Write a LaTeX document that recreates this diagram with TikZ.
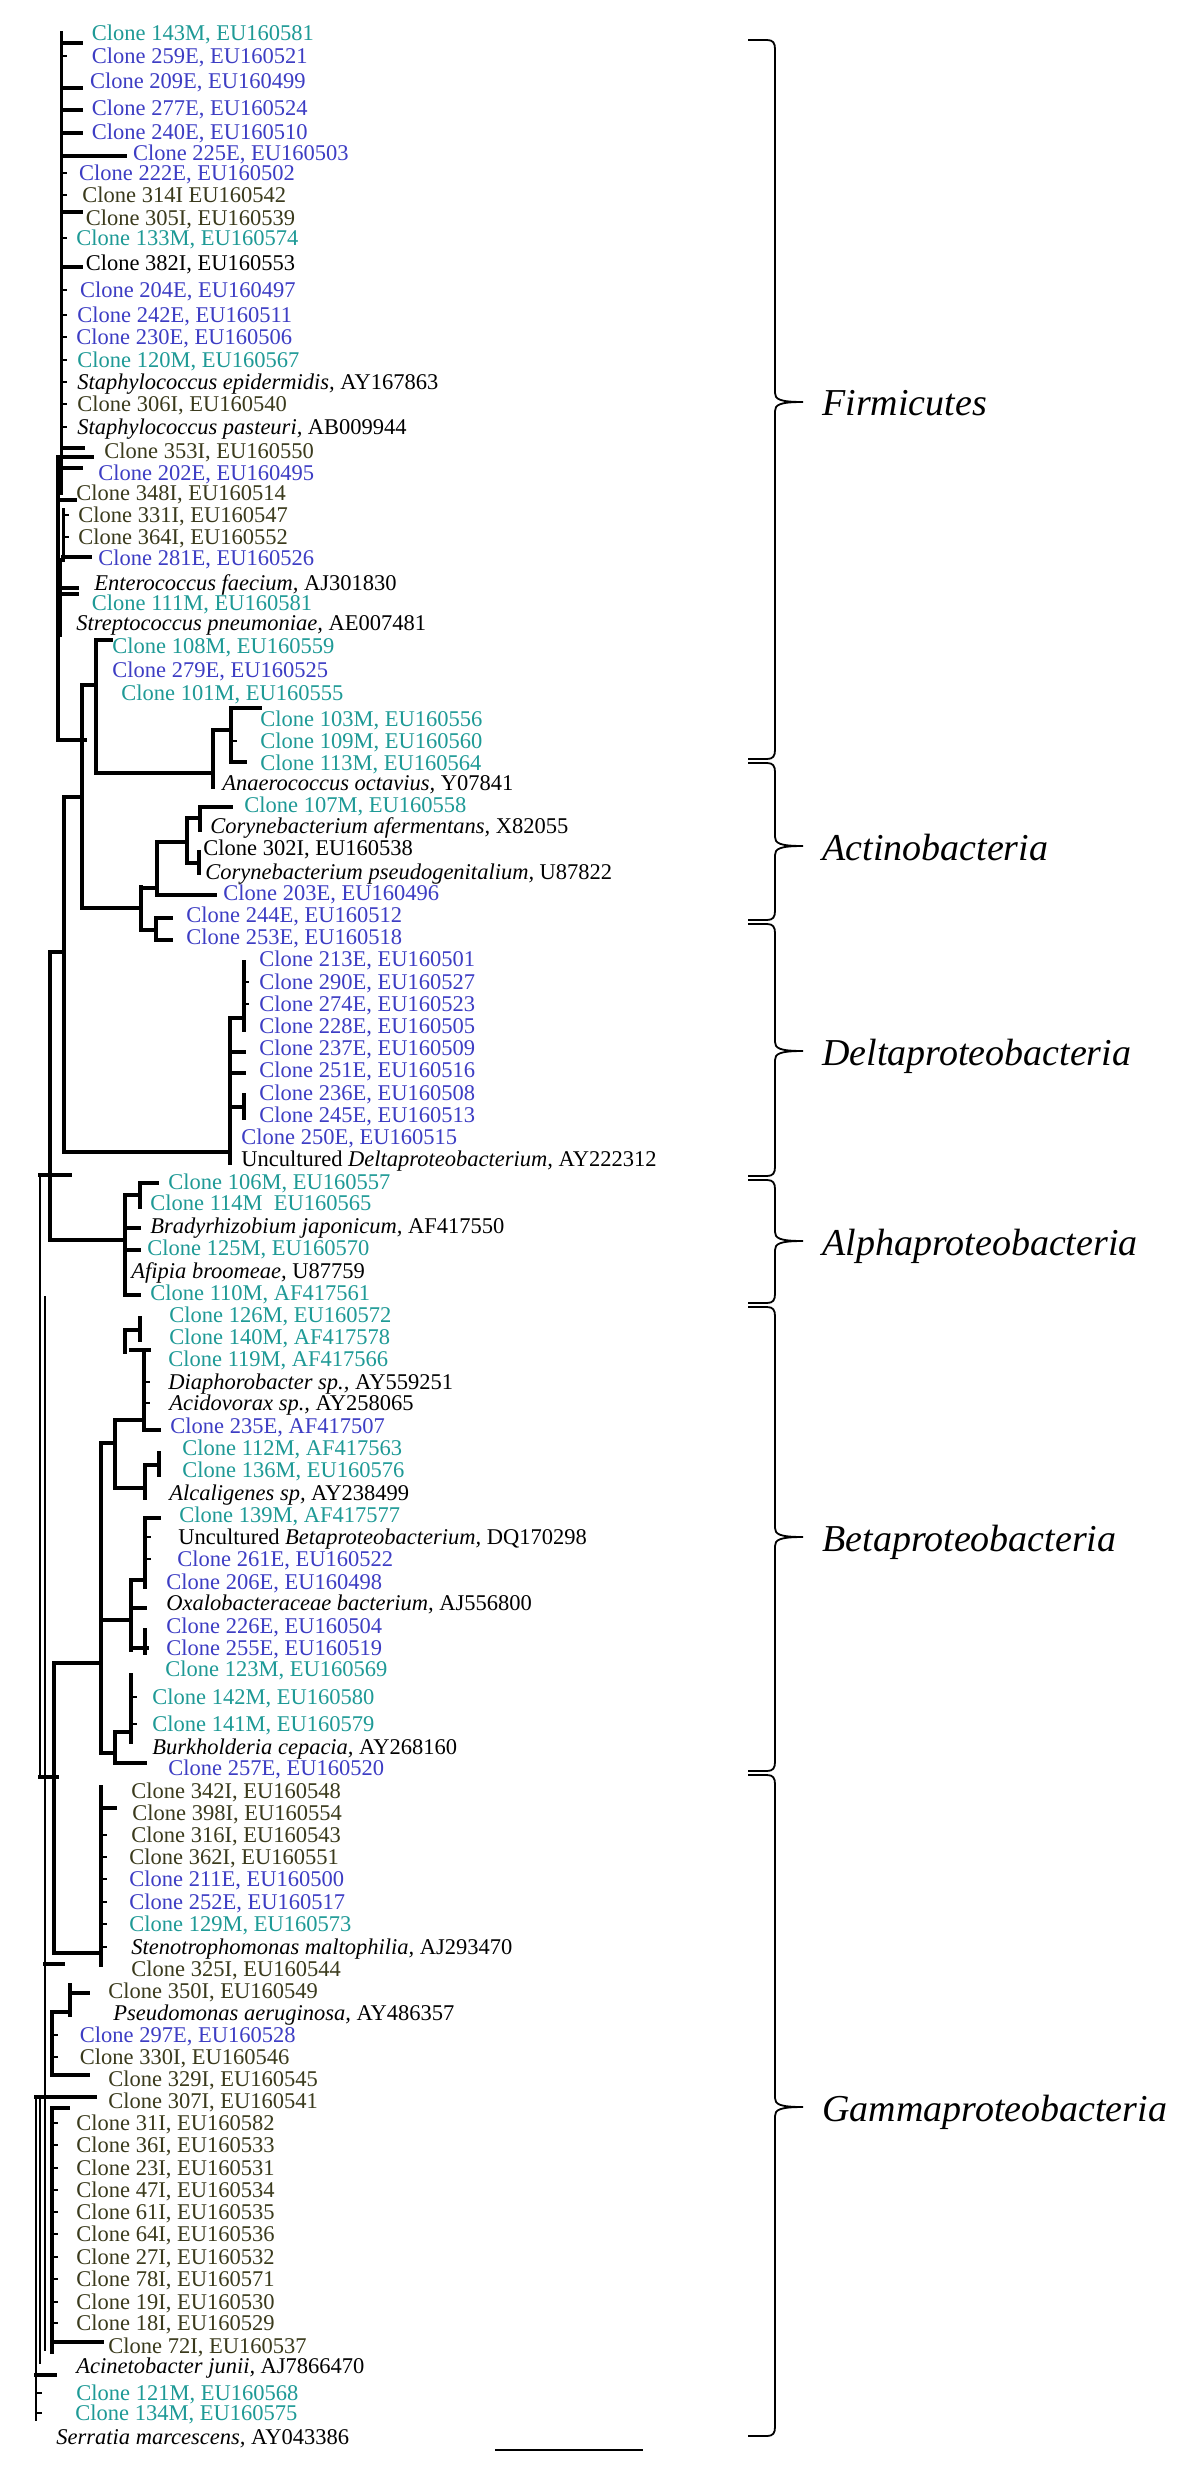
\documentclass[tikz,border=0pt]{standalone}
\usepackage{fontspec}
\setmainfont{Liberation Serif}
\usepackage{tikz}

\begin{document}
\begin{tikzpicture}[x=0.5pt, y=-0.5pt, line join=miter,
    branch/.style={line width=1.9pt, line cap=rect},
    root/.style={line width=1pt, line cap=rect},
    serr/.style={line width=1.2pt},
    bracepen/.style={line width=0.9pt},
    leaf/.style={anchor=base west, inner sep=0pt, font=\fontsize{11.25}{12}\selectfont},
    taxon/.style={anchor=base west, inner sep=0pt, font=\fontsize{19}{20}\selectfont\itshape}]
    \definecolor{cloneM}{HTML}{1E9A96}
    \definecolor{cloneE}{HTML}{3D3DC4}
    \definecolor{cloneI}{HTML}{3A3A1C}
    \definecolor{refsp}{HTML}{000000}

    % --- the page, in pixels of the reference (y runs down)
    \useasboundingbox[fill=white] (0,0) rectangle (1200,2487);

    % --- leaves: name / x / y of the text middle / colour / text
    \foreach \nm/\xx/\yy/\col/\lab in {
      c143M/91.5/33/cloneM/{Clone 143M, EU160581},
      c259E/91.5/56/cloneE/{Clone 259E, EU160521},
      c209E/89.6/81/cloneE/{Clone 209E, EU160499},
      c277E/91.5/108/cloneE/{Clone 277E, EU160524},
      c240E/91.5/132/cloneE/{Clone 240E, EU160510},
      c225E/132.7/153/cloneE/{Clone 225E, EU160503},
      c222E/78.8/173/cloneE/{Clone 222E, EU160502},
      c314I/82/195/cloneI/{Clone 314I EU160542},
      c305I/85.4/218/cloneI/{Clone 305I, EU160539},
      c133M/76/238/cloneM/{Clone 133M, EU160574},
      c382I/85.4/263/refsp/{Clone 382I, EU160553},
      c204E/79.6/290/cloneE/{Clone 204E, EU160497},
      c242E/77/315/cloneE/{Clone 242E, EU160511},
      c230E/76/337/cloneE/{Clone 230E, EU160506},
      c120M/77/360/cloneM/{Clone 120M, EU160567},
      sepi/77/382/refsp/{\textit{Staphylococcus epidermidis,} AY167863},
      c306I/77/404/cloneI/{Clone 306I, EU160540},
      spas/77/427/refsp/{\textit{Staphylococcus pasteuri,} AB009944},
      c353I/104/451/cloneI/{Clone 353I, EU160550},
      c202E/98/473/cloneE/{Clone 202E, EU160495},
      c348I/76/493/cloneI/{Clone 348I, EU160514},
      c331I/78/515/cloneI/{Clone 331I, EU160547},
      c364I/78/537/cloneI/{Clone 364I, EU160552},
      c281E/98/558/cloneE/{Clone 281E, EU160526},
      efae/94/583/refsp/{\textit{Enterococcus faecium,} AJ301830},
      c111M/91.5/603/cloneM/{Clone 111M, EU160581},
      spne/76/623/refsp/{\textit{Streptococcus pneumoniae,} AE007481},
      c108M/112/646/cloneM/{Clone 108M, EU160559},
      c279E/112/670/cloneE/{Clone 279E, EU160525},
      c101M/121/693/cloneM/{Clone 101M, EU160555},
      c103M/260/719/cloneM/{Clone 103M, EU160556},
      c109M/260/741/cloneM/{Clone 109M, EU160560},
      c113M/260/763/cloneM/{Clone 113M, EU160564},
      aoct/222/783/refsp/{\textit{Anaerococcus octavius,} Y07841}} {
      \node[leaf, text=\col] (\nm) at (\xx,{\yy+7.4}) {\lab};
    }
    \foreach \nm/\xx/\yy/\col/\lab in {
      c107M/244/805/cloneM/{Clone 107M, EU160558},
      cafe/210/826/refsp/{\textit{Corynebacterium afermentans,} X82055},
      c302I/203/848/refsp/{Clone 302I, EU160538},
      cpse/205/872/refsp/{\textit{Corynebacterium pseudogenitalium,} U87822},
      c203E/223/893/cloneE/{Clone 203E, EU160496},
      c244E/186/915/cloneE/{Clone 244E, EU160512},
      c253E/186/937/cloneE/{Clone 253E, EU160518},
      c213E/259/959/cloneE/{Clone 213E, EU160501},
      c290E/259/982/cloneE/{Clone 290E, EU160527},
      c274E/259/1004/cloneE/{Clone 274E, EU160523},
      c228E/259/1026/cloneE/{Clone 228E, EU160505},
      c237E/259/1048/cloneE/{Clone 237E, EU160509},
      c251E/259/1070/cloneE/{Clone 251E, EU160516},
      c236E/259/1093/cloneE/{Clone 236E, EU160508},
      c245E/259/1115/cloneE/{Clone 245E, EU160513},
      c250E/241/1137/cloneE/{Clone 250E, EU160515},
      udel/241/1159/refsp/{Uncultured \textit{Deltaproteobacterium,} AY222312},
      c106M/168/1182/cloneM/{Clone 106M, EU160557},
      c114M/150/1203/cloneM/{Clone 114M\ \ EU160565},
      bjap/150/1226/refsp/{\textit{Bradyrhizobium japonicum,} AF417550},
      c125M/147/1248/cloneM/{Clone 125M, EU160570},
      abro/131/1271/refsp/{\textit{Afipia broomeae,} U87759},
      c110M/150/1293/cloneM/{Clone 110M, AF417561}} {
      \node[leaf, text=\col] (\nm) at (\xx,{\yy+7.4}) {\lab};
    }
    \foreach \nm/\xx/\yy/\col/\lab in {
      c126M/169/1315/cloneM/{Clone 126M, EU160572},
      c140M/169/1337/cloneM/{Clone 140M, AF417578},
      c119M/168/1359/cloneM/{Clone 119M, AF417566},
      diap/168/1382/refsp/{\textit{Diaphorobacter sp.,} AY559251},
      acid/169/1403/refsp/{\textit{Acidovorax sp.,} AY258065},
      c235E/170/1426/cloneE/{Clone 235E, AF417507},
      c112M/182/1448/cloneM/{Clone 112M, AF417563},
      c136M/182/1470/cloneM/{Clone 136M, EU160576},
      alca/169/1493/refsp/{\textit{Alcaligenes sp,} AY238499},
      c139M/179/1515/cloneM/{Clone 139M, AF417577},
      ubet/178/1537/refsp/{Uncultured \textit{Betaproteobacterium,} DQ170298},
      c261E/177/1559/cloneE/{Clone 261E, EU160522},
      c206E/166/1582/cloneE/{Clone 206E, EU160498},
      oxal/166/1603/refsp/{\textit{Oxalobacteraceae bacterium,} AJ556800},
      c226E/166/1626/cloneE/{Clone 226E, EU160504},
      c255E/166/1648/cloneE/{Clone 255E, EU160519},
      c123M/165/1669/cloneM/{Clone 123M, EU160569},
      c142M/152/1697/cloneM/{Clone 142M, EU160580},
      c141M/152/1724/cloneM/{Clone 141M, EU160579},
      bcep/152/1747/refsp/{\textit{Burkholderia cepacia,} AY268160},
      c257E/168/1768/cloneE/{Clone 257E, EU160520}} {
      \node[leaf, text=\col] (\nm) at (\xx,{\yy+7.4}) {\lab};
    }
    \foreach \nm/\xx/\yy/\col/\lab in {
      c342I/131/1791/cloneI/{Clone 342I, EU160548},
      c398I/132/1813/cloneI/{Clone 398I, EU160554},
      c316I/131/1835/cloneI/{Clone 316I, EU160543},
      c362I/129/1857/cloneI/{Clone 362I, EU160551},
      c211E/129/1879/cloneE/{Clone 211E, EU160500},
      c252E/129/1902/cloneE/{Clone 252E, EU160517},
      c129M/129/1924/cloneM/{Clone 129M, EU160573},
      smal/131/1947/refsp/{\textit{Stenotrophomonas maltophilia,} AJ293470},
      c325I/131/1969/cloneI/{Clone 325I, EU160544},
      c350I/108/1991/cloneI/{Clone 350I, EU160549},
      paer/113/2013/refsp/{\textit{Pseudomonas aeruginosa,} AY486357},
      c297E/79.5/2035/cloneE/{Clone 297E, EU160528},
      c330I/79.5/2057/cloneI/{Clone 330I, EU160546},
      c329I/108/2079/cloneI/{Clone 329I, EU160545},
      c307I/108/2101/cloneI/{Clone 307I, EU160541},
      c31I/76/2123/cloneI/{Clone 31I, EU160582},
      c36I/76/2145/cloneI/{Clone 36I, EU160533},
      c23I/76/2168/cloneI/{Clone 23I, EU160531},
      c47I/76/2190/cloneI/{Clone 47I, EU160534},
      c61I/76/2212/cloneI/{Clone 61I, EU160535},
      c64I/76/2234/cloneI/{Clone 64I, EU160536},
      c27I/76/2257/cloneI/{Clone 27I, EU160532},
      c78I/76/2279/cloneI/{Clone 78I, EU160571},
      c19I/76/2302/cloneI/{Clone 19I, EU160530},
      c18I/76/2323/cloneI/{Clone 18I, EU160529},
      c72I/108/2346/cloneI/{Clone 72I, EU160537},
      ajun/76/2366/refsp/{\textit{Acinetobacter junii,} AJ7866470},
      c121M/76/2393/cloneM/{Clone 121M, EU160568},
      c134M/75/2413/cloneM/{Clone 134M, EU160575},
      smar/56/2437/refsp/{\textit{Serratia marcescens,} AY043386}} {
      \node[leaf, text=\col] (\nm) at (\xx,{\yy+7.4}) {\lab};
    }

    % --- Firmicutes
    \draw[branch] (61.5,33) -- (61.5,493);
    \foreach \yy in {43, 88, 110, 133, 212, 267}
      \draw[branch] (61.5,\yy) -- (81,\yy);
    \foreach \yy in {56, 173, 195, 238, 290, 315, 337, 360, 382, 404, 427}
      \draw[serr] (61.5,\yy) -- (67,\yy);
    \draw[branch] (61.5,156) -- (125,156);
    \draw[branch] (63,448) -- (83,448);
    \draw[branch] (58,457) -- (92,457);
    \draw[branch] (63,468) -- (81,468);
    \draw[branch] (58,500) -- (75,500);
    \draw[branch] (58,457) -- (58,740) -- (85,740);
    \draw[branch] (63.5,510) -- (63.5,560);
    \foreach \yy in {515, 537}
      \draw[serr] (63.5,\yy) -- (69,\yy);
    \draw[branch] (63,557) -- (90,557);
    \draw[branch] (60,560) -- (60,635);
    \draw[branch] (58,588) -- (77,588);
    \draw[branch] (58,594) -- (77,594);

    % --- 108M and Anaerococcus
    \draw[branch] (82,685) -- (96,685);
    \draw[branch] (111,640) -- (96,640) -- (96,773) -- (213,773);
    \draw[branch] (213,787) -- (213,730) -- (231,730);
    \draw[branch] (260,708) -- (231,708) -- (231,762) -- (245,762);
    \draw[serr] (231,741) -- (237,741);
    \draw[branch] (82,685) -- (82,908) -- (141,908);
    \draw[branch] (64,797) -- (82,797);
    \draw[branch] (64,797) -- (64,1152) -- (230,1152);

    % --- Actinobacteria
    \draw[branch] (141,887) -- (141,930) -- (156,930);
    \draw[branch] (141,888) -- (157,888);
    \draw[branch] (187,842) -- (157,842) -- (157,895) -- (215,895);
    \draw[branch] (200,818) -- (187,818) -- (187,863) -- (199,863);
    \draw[branch] (199,852) -- (199,873);
    \draw[branch] (231,807) -- (200,807) -- (200,830);
    \draw[branch] (171,918) -- (156,918) -- (156,940) -- (171,940);

    % --- Deltaproteobacteria
    \draw[branch] (244,962) -- (244,1030);
    \foreach \yy in {982, 1004}
      \draw[serr] (244,\yy) -- (249,\yy);
    \draw[branch] (244,1018) -- (230,1018) -- (230,1163);
    \foreach \yy in {1052, 1073, 1107}
      \draw[branch] (230,\yy) -- (244,\yy);
    \draw[branch] (244,1095) -- (244,1118);

    % --- Alphaproteobacteria
    \draw[branch] (49.7,952) -- (64,952);
    \draw[branch] (49.7,952) -- (49.7,1240) -- (125,1240);
    \draw[branch] (40,1175) -- (70,1175);
    \draw[branch] (139,1195) -- (125,1195) -- (125,1295);
    \draw[branch] (157,1183) -- (140,1183) -- (140,1207);
    \foreach \yy in {1228, 1250, 1295}
      \draw[branch] (125,\yy) -- (139,\yy);

    % --- Betaproteobacteria
    \draw[branch] (140,1330) -- (125,1330) -- (125,1352);
    \draw[branch] (140,1318) -- (140,1340);
    \draw[branch] (131,1350) -- (149,1350);
    \draw[branch] (144,1350) -- (144,1430) -- (159,1430);
    \foreach \yy in {1382, 1403}
      \draw[serr] (144,\yy) -- (150,\yy);
    \draw[branch] (144,1420) -- (115,1420) -- (115,1488) -- (145,1488);
    \draw[branch] (145,1498) -- (145,1465) -- (159,1465);
    \draw[branch] (159,1453) -- (159,1475);
    \draw[branch] (115,1443) -- (101,1443) -- (101,1753) -- (115,1753);
    \draw[branch] (159,1518) -- (145,1518) -- (145,1587);
    \foreach \yy in {1537, 1559}
      \draw[serr] (145,\yy) -- (151,\yy);
    \draw[branch] (145,1580) -- (131,1580) -- (131,1650);
    \draw[branch] (131,1608) -- (145,1608);
    \draw[branch] (131,1648) -- (147,1648);
    \draw[branch] (145,1630) -- (145,1653);
    \draw[branch] (101,1620) -- (131,1620);
    \draw[branch] (101,1663) -- (54,1663) -- (54,1953) -- (101,1953);
    \draw[branch] (131,1675) -- (131,1742);
    \foreach \yy in {1697, 1724}
      \draw[serr] (131,\yy) -- (137,\yy);
    \draw[branch] (131,1732) -- (115,1732) -- (115,1763) -- (145,1763);

    % --- Gammaproteobacteria
    \draw[branch] (101,1787) -- (101,1965);
    \draw[branch] (101,1808) -- (115,1808);
    \foreach \yy in {1835, 1857, 1879, 1902, 1924, 1947}
      \draw[serr] (101,\yy) -- (107,\yy);
    \draw[root] (39.5,1175) -- (39.5,1777);
    \draw[branch] (39.5,1777) -- (57,1777);
    \draw[root] (44.5,1297) -- (44.5,2350);
    \draw[branch] (44.5,1964) -- (63,1964);
    \draw[branch] (70,2012) -- (52,2012) -- (52,2075) -- (88,2075);
    \foreach \yy in {2035, 2057}
      \draw[serr] (52,\yy) -- (58,\yy);
    \draw[branch] (70,1985) -- (70,2015);
    \draw[branch] (70,1993) -- (88,1993);
    \draw[branch] (95,2097) -- (36,2097);
    \draw[root] (36,2097) -- (36,2420);
    \draw[root] (40,2097) -- (40,2363);
    \draw[branch] (68,2108) -- (52,2108) -- (52,2352);
    \foreach \yy in {2123, 2145, 2168, 2190, 2212, 2234, 2257, 2279, 2302, 2323}
      \draw[serr] (52,\yy) -- (58,\yy);
    \draw[branch] (52,2342) -- (102,2342);
    \draw[branch] (36,2375) -- (55,2375);
    \foreach \yy in {2393, 2413}
      \draw[serr] (36,\yy) -- (42,\yy);

    % --- scale bar
    \coordinate (bar0) at (495,2450);
    \coordinate (bar1) at (643,2450);
    \draw[line width=1.4pt] (bar0) -- (bar1);

    % --- the braces and the names of the groups: top / tip / bottom / name / text
    \foreach \ya/\yt/\yb/\nm/\lab in {
      40/402/759/firm/Firmicutes,
      763/846/920/acti/Actinobacteria,
      924/1051/1176/delt/Deltaproteobacteria,
      1180/1241/1303/alph/Alphaproteobacteria,
      1307/1537/1771/beta/Betaproteobacteria,
      1775/2107/2436/gamm/Gammaproteobacteria} {
      \draw[bracepen] (748,\ya) -- (767,\ya)
        .. controls (773,\ya) and (775,{\ya+3}) .. (775,{\ya+9})
        -- (775,{\yt-9})
        .. controls (775,{\yt-3}) and (779,\yt) .. (803,\yt)
        .. controls (779,\yt) and (775,{\yt+3}) .. (775,{\yt+9})
        -- (775,{\yb-9})
        .. controls (775,{\yb-3}) and (773,\yb) .. (767,\yb) -- (748,\yb);
      \node[taxon] (\nm) at (822,{\yt+14}) {\lab};
    }
\end{tikzpicture}
\end{document}
